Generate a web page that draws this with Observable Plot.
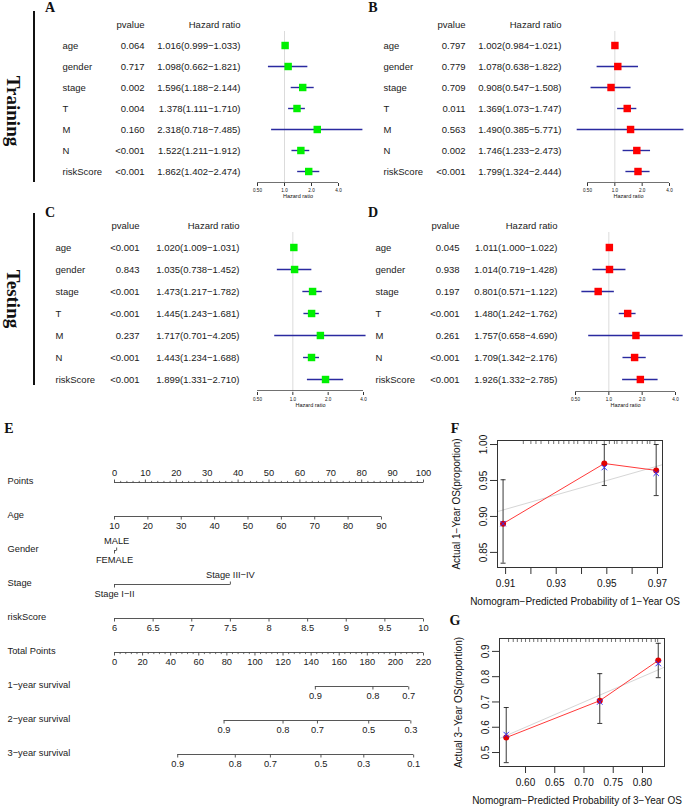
<!DOCTYPE html>
<html><head><meta charset="utf-8">
<script src="https://cdn.jsdelivr.net/npm/d3@7"></script>
<script src="https://cdn.jsdelivr.net/npm/@observablehq/plot@0.6"></script>
<style>
html,body{margin:0;padding:0;background:#fff;}
#root{position:relative;width:685px;height:809px;overflow:hidden;background:#fff;}
.pane{position:absolute;}
.pane svg{display:block;}
.lbl{position:absolute;font-family:"Liberation Serif","Times New Roman",serif;font-weight:bold;white-space:nowrap;line-height:1;color:#111;transform:translate(-50%,-50%);}
.bar{position:absolute;background:#111;width:2px;}
</style></head><body><div id="root"></div>
<script>
// ---------- DATA ----------
const variables = ["age","gender","stage","T","M","N","riskScore"];
const headerKey = "header";
const colHeaders = ["pvalue","Hazard ratio"];
const axisTitle = "Hazard ratio";
const forestTicks = [0.5, 1, 2, 4];
const forestTickLabels = ["0.50","1.0","2.0","4.0"];

// A: training, univariate
const trainUniP  = ["0.064","0.717","0.002","0.004","0.160","<0.001","<0.001"];
const trainUniHR = [1.016,1.098,1.596,1.378,2.318,1.522,1.862];
const trainUniLo = [0.999,0.662,1.188,1.111,0.718,1.211,1.402];
const trainUniHi = [1.033,1.821,2.144,1.710,7.485,1.912,2.474];
// B: training, multivariate
const trainMulP  = ["0.797","0.779","0.709","0.011","0.563","0.002","<0.001"];
const trainMulHR = [1.002,1.078,0.908,1.369,1.490,1.746,1.799];
const trainMulLo = [0.984,0.638,0.547,1.073,0.385,1.233,1.324];
const trainMulHi = [1.021,1.822,1.508,1.747,5.771,2.473,2.444];
// C: testing, univariate
const testUniP  = ["<0.001","0.843","<0.001","<0.001","0.237","<0.001","<0.001"];
const testUniHR = [1.020,1.035,1.473,1.445,1.717,1.443,1.899];
const testUniLo = [1.009,0.738,1.217,1.243,0.701,1.234,1.331];
const testUniHi = [1.031,1.452,1.782,1.681,4.205,1.688,2.710];
// D: testing, multivariate
const testMulP  = ["0.045","0.938","0.197","<0.001","0.261","<0.001","<0.001"];
const testMulHR = [1.011,1.014,0.801,1.480,1.757,1.709,1.926];
const testMulLo = [1.000,0.719,0.571,1.242,0.658,1.342,1.332];
const testMulHi = [1.022,1.428,1.122,1.762,4.690,2.176,2.785];

// E: nomogram
const nomoRows = ["Points","Age","Gender","Stage","riskScore","Total Points","1−year survival","2−year survival","3−year survival"];
const pointsTicks = [0,10,20,30,40,50,60,70,80,90,100];
const ageTicks = [10,20,30,40,50,60,70,80,90];
const ageRange = [10, 90], agePointRange = [0, 86.4];
const genderLevels = ["MALE","FEMALE"], genderPoints = [0.7, 0], genderSide = ["above","below"];
const stageLevels = ["Stage I−II","Stage III−IV"], stagePoints = [0, 37.5], stageSide = ["below","above"];
const riskTicks = [6,6.5,7,7.5,8,8.5,9,9.5,10];
const riskRange = [6, 10], riskPointRange = [0, 100];
const totalTicks = [0,20,40,60,80,100,120,140,160,180,200,220];
const totalRange = [0, 220];
const surv1 = [0.9,0.8,0.7],             surv1Total = [143,184,209.5];
const surv2 = [0.9,0.8,0.7,0.5,0.3],     surv2Total = [78,120,144.5,181,211];
const surv3 = [0.9,0.8,0.7,0.5,0.3,0.1], surv3Total = [45,86,111,147,177.5,213];

// F: 1-year calibration
const f1Pred = [0.909, 0.949, 0.9695];
const f1Obs  = [0.890, 0.9736, 0.964];
const f1Corr = [0.890, 0.968, 0.960];
const f1Lo   = [0.835, 0.943, 0.929];
const f1Hi   = [0.951, 1.000, 1.000];
const f1Rug  = [0.917,0.920,0.922,0.924,0.927,0.929,0.931,0.933,0.935,0.937,0.9385,0.941,0.943,0.944,0.946,0.949,0.951,0.953,0.954,0.956,0.958,0.960,0.962,0.964,0.966,0.967,0.969];
const f1XTicks = [0.91,0.92,0.93,0.94,0.95,0.96,0.97];
const f1XLabels = ["0.91","","0.93","","0.95","","0.97"];
const f1YTicks = [0.85,0.90,0.95,1.00];
const f1YLabels = ["0.85","0.90","0.95","1.00"];
const f1XTitle = "Nomogram−Predicted Probability of 1−Year OS";
const f1YTitle = "Actual 1−Year OS(proportion)";
// G: 3-year calibration
const g3Pred = [0.567, 0.727, 0.827];
const g3Obs  = [0.559, 0.705, 0.864];
const g3Corr = [0.571, 0.700, 0.852];
const g3Lo   = [0.460, 0.615, 0.796];
const g3Hi   = [0.678, 0.812, 0.932];
const g3Rug  = [0.571,0.579,0.586,0.593,0.600,0.607,0.614,0.621,0.627,0.636,0.643,0.650,0.658,0.665,0.672,0.679,0.687,0.694,0.703,0.709,0.716,0.725,0.732,0.740,0.747,0.754,0.762,0.771,0.778,0.785,0.793,0.800,0.807,0.815,0.822,0.826];
const g3XTicks = [0.60,0.65,0.70,0.75,0.80];
const g3XLabels = ["0.60","0.65","0.70","0.75","0.80"];
const g3YTicks = [0.5,0.6,0.7,0.8,0.9];
const g3YLabels = ["0.5","0.6","0.7","0.8","0.9"];
const g3XTitle = "Nomogram−Predicted Probability of 3−Year OS";
const g3YTitle = "Actual 3−Year OS(proportion)";

// ---------- HELPERS ----------
const SANS = '"Liberation Sans", Arial, Helvetica, sans-serif';
const root = document.getElementById("root");
const baseStyle = {fontFamily: SANS, fontSize: "9.5px", background: "none", overflow: "visible", maxWidth: "none", color: "#111"};
function place(node, left, top) {
  const d = document.createElement("div");
  d.className = "pane"; d.style.left = left + "px"; d.style.top = top + "px";
  d.appendChild(node); root.appendChild(d);
}
function label(text, cx, cy, size, rotate) {
  const d = document.createElement("div");
  d.className = "lbl"; d.textContent = text;
  d.style.left = cx + "px"; d.style.top = cy + "px"; d.style.fontSize = size + "px";
  if (rotate) d.style.transform = `translate(-50%,-50%) rotate(${rotate}deg)`;
  root.appendChild(d);
}
function bar(left, top, h) {
  const d = document.createElement("div");
  d.className = "bar"; d.style.left = left + "px"; d.style.top = top + "px"; d.style.height = h + "px";
  root.appendChild(d);
}
const lenOf = size => Math.sqrt(size / Math.PI);
const tickDown = {draw(ctx, s) { const l = lenOf(s); ctx.moveTo(0, 0); ctx.lineTo(0, l); }};
const tickUp   = {draw(ctx, s) { const l = lenOf(s); ctx.moveTo(0, 0); ctx.lineTo(0, -l); }};
const hCap     = {draw(ctx, s) { const l = lenOf(s); ctx.moveTo(-l, 0); ctx.lineTo(l, 0); }};

// ---------- FOREST ----------
function forest(c) {
  const rows = variables.map((v, i) => ({
    v, p: c.p[i], hr: c.hr[i], lo: c.lo[i], hi: c.hi[i],
    txt: `${c.hr[i].toFixed(3)}(${c.lo[i].toFixed(3)}−${c.hi[i].toFixed(3)})`
  }));
  const last = variables[variables.length - 1];
  const axisGap = (c.height - c.marginBottom) - c.rowRange[1];
  const x0 = forestTicks[0], x1 = forestTicks[forestTicks.length - 1];
  return Plot.plot({
    width: c.width, height: c.height,
    marginLeft: c.marginLeft, marginRight: c.marginRight, marginTop: c.marginTop, marginBottom: c.marginBottom,
    style: baseStyle,
    x: {type: "log", domain: [x0, x1], axis: null},
    y: {type: "point", domain: [headerKey, ...variables], range: c.rowRange, padding: 0, axis: null},
    marks: [
      Plot.ruleX([1], {stroke: "#d2d2d2", strokeWidth: 0.8}),
      Plot.ruleY([last], {x1: x0, x2: x1, dy: axisGap, stroke: "#333", strokeWidth: 0.7}),
      Plot.axisX({ticks: forestTicks, tickFormat: d => forestTickLabels[forestTicks.indexOf(d)], tickSize: 3, tickPadding: 2.5, fontSize: 4.6, label: null, stroke: "#333"}),
      Plot.text([axisTitle], {text: d => d, frameAnchor: "bottom", dy: 14, fontSize: 5.5}),
      Plot.ruleY(rows, {y: "v", x1: "lo", x2: "hi", stroke: "#2a2aa0", strokeWidth: 1.4}),
      Plot.dot(rows, {x: "hr", y: "v", symbol: "square", fill: c.color, r: 4.2}),
      Plot.text(rows, {y: "v", text: "v", frameAnchor: "left", dx: c.dx[0], textAnchor: "start", fill: "#1a1a1a"}),
      Plot.text(rows, {y: "v", text: "p", frameAnchor: "left", dx: c.dx[1], textAnchor: "end", fill: "#1a1a1a"}),
      Plot.text(rows, {y: "v", text: "txt", frameAnchor: "left", dx: c.dx[2], textAnchor: "end", fill: "#1a1a1a"}),
      Plot.text([colHeaders[0]], {y: () => headerKey, text: d => d, frameAnchor: "left", dx: c.dx[1], textAnchor: "end", fill: "#1a1a1a"}),
      Plot.text([colHeaders[1]], {y: () => headerKey, text: d => d, frameAnchor: "left", dx: c.dx[2], textAnchor: "end", fill: "#1a1a1a"})
    ]
  });
}
const GREEN = "#00f000", RED = "#ff0000";
place(forest({p: trainUniP, hr: trainUniHR, lo: trainUniLo, hi: trainUniHi, color: GREEN,
  width: 370, height: 205, marginLeft: 257, marginRight: 32, marginTop: 31, marginBottom: 22, rowRange: [22, 172], dx: [-195, -113, -17]}), 0, 0);
place(forest({p: trainMulP, hr: trainMulHR, lo: trainMulLo, hi: trainMulHi, color: RED,
  width: 340, height: 205, marginLeft: 242, marginRight: 16, marginTop: 31, marginBottom: 22, rowRange: [22, 172], dx: [-204, -122, -26]}), 345, 0);
place(forest({p: testUniP, hr: testUniHR, lo: testUniLo, hi: testUniHi, color: GREEN,
  width: 370, height: 215, marginLeft: 257, marginRight: 7, marginTop: 32, marginBottom: 23, rowRange: [23, 181], dx: [-202, -118, -18]}), 0, 200);
place(forest({p: testMulP, hr: testMulHR, lo: testMulLo, hi: testMulHi, color: RED,
  width: 340, height: 215, marginLeft: 230, marginRight: 10, marginTop: 32, marginBottom: 23, rowRange: [23, 180], dx: [-200, -116, -18]}), 345, 200);

// ---------- NOMOGRAM ----------
function nomogram() {
  const R = nomoRows;
  const ageS = d3.scaleLinear(ageRange, agePointRange);
  const riskS = d3.scaleLinear(riskRange, riskPointRange);
  const totS = d3.scaleLinear(totalRange, [0, 100]);
  const pointsMinor = d3.range(0, 101, 2).filter(t => t % 10);
  const totalMinor = d3.range(0, 221, 4).filter(t => t % 20);
  const lines = [], down = [], up = [], minDown = [], minUp = [], below = [], above = [];
  const ext = arr => ({a: d3.min(arr), b: d3.max(arr)});
  lines.push({row: R[0], ...ext(pointsTicks)});
  pointsTicks.forEach(t => { up.push({row: R[0], x: t}); above.push({row: R[0], x: t, label: String(t)}); });
  pointsMinor.forEach(t => minUp.push({row: R[0], x: t}));
  const ageP = ageTicks.map(ageS);
  lines.push({row: R[1], ...ext(ageP)});
  ageTicks.forEach((t, i) => { down.push({row: R[1], x: ageP[i]}); below.push({row: R[1], x: ageP[i], label: String(t)}); });
  lines.push({row: R[2], ...ext(genderPoints)});
  genderLevels.forEach((g, i) => {
    const o = {row: R[2], x: genderPoints[i], label: g};
    if (genderSide[i] === "above") { up.push(o); above.push(o); } else { down.push(o); below.push(o); }
  });
  lines.push({row: R[3], ...ext(stagePoints)});
  stageLevels.forEach((g, i) => {
    const o = {row: R[3], x: stagePoints[i], label: g};
    if (stageSide[i] === "above") { up.push(o); above.push(o); } else { down.push(o); below.push(o); }
  });
  const riskP = riskTicks.map(riskS);
  lines.push({row: R[4], ...ext(riskP)});
  riskTicks.forEach((t, i) => { down.push({row: R[4], x: riskP[i]}); below.push({row: R[4], x: riskP[i], label: String(t)}); });
  const totP = totalTicks.map(totS);
  lines.push({row: R[5], ...ext(totP)});
  totalTicks.forEach((t, i) => { down.push({row: R[5], x: totP[i]}); below.push({row: R[5], x: totP[i], label: String(t)}); });
  totalMinor.forEach(t => minDown.push({row: R[5], x: totS(t)}));
  [[surv1, surv1Total], [surv2, surv2Total], [surv3, surv3Total]].forEach(([s, tp], k) => {
    const xs = tp.map(totS);
    lines.push({row: R[6 + k], ...ext(xs)});
    s.forEach((v, i) => { down.push({row: R[6 + k], x: xs[i]}); below.push({row: R[6 + k], x: xs[i], label: String(v)}); });
  });
  const ink = "#444";
  return Plot.plot({
    width: 440, height: 389, marginLeft: 114, marginRight: 17, marginTop: 0, marginBottom: 0,
    style: {...baseStyle, fontSize: "9.3px"},
    x: {domain: [0, 100], axis: null},
    y: {type: "point", domain: R, range: [61, 335], padding: 0, axis: null},
    marks: [
      Plot.text(R, {y: d => d, text: d => d, frameAnchor: "left", dx: -107, dy: -1, textAnchor: "start", fill: "#1a1a1a"}),
      Plot.ruleY(lines, {y: "row", x1: "a", x2: "b", stroke: ink, strokeWidth: 0.9}),
      Plot.dot(down, {x: "x", y: "row", symbol: tickDown, r: 3, stroke: ink, fill: "none", strokeWidth: 0.9}),
      Plot.dot(up, {x: "x", y: "row", symbol: tickUp, r: 3, stroke: ink, fill: "none", strokeWidth: 0.9}),
      Plot.dot(minDown, {x: "x", y: "row", symbol: tickDown, r: 1.6, stroke: ink, fill: "none", strokeWidth: 0.8}),
      Plot.dot(minUp, {x: "x", y: "row", symbol: tickUp, r: 1.6, stroke: ink, fill: "none", strokeWidth: 0.8}),
      Plot.text(below, {x: "x", y: "row", text: "label", dy: 10, fill: "#1a1a1a"}),
      Plot.text(above, {x: "x", y: "row", text: "label", dy: -9, fill: "#1a1a1a"})
    ]
  });
}
place(nomogram(), 0, 420);

// ---------- CALIBRATION ----------
function calib(c) {
  const pts = c.pred.map((x, i) => ({x, obs: c.obs[i], corr: c.corr[i], lo: c.lo[i], hi: c.hi[i]}));
  const ideal = c.xDomain.map(v => ({v}));
  const frameH = c.height - c.marginTop - c.marginBottom;
  return Plot.plot({
    width: c.width, height: c.height,
    marginLeft: c.marginLeft, marginRight: c.marginRight, marginTop: c.marginTop, marginBottom: c.marginBottom,
    style: {...baseStyle, fontSize: "10px"},
    x: {domain: c.xDomain, axis: null},
    y: {domain: c.yDomain, axis: null},
    marks: [
      Plot.line(ideal, {x: "v", y: "v", stroke: "#d6d6d6", strokeWidth: 1}),
      Plot.ruleX(c.rug, {x: d => d, insetBottom: frameH - 4, stroke: "#333", strokeWidth: 0.7}),
      Plot.ruleX(pts, {x: "x", y1: "lo", y2: "hi", stroke: "#222", strokeWidth: 0.9}),
      Plot.dot(pts, {x: "x", y: "lo", symbol: hCap, r: 2.5, stroke: "#222", fill: "none", strokeWidth: 0.9}),
      Plot.dot(pts, {x: "x", y: "hi", symbol: hCap, r: 2.5, stroke: "#222", fill: "none", strokeWidth: 0.9}),
      Plot.line(pts, {x: "x", y: "obs", stroke: "#ff3a3a", strokeWidth: 1}),
      Plot.dot(pts, {x: "x", y: "obs", r: 3, fill: "#e00000"}),
      Plot.dot(pts, {x: "x", y: "corr", symbol: "times", r: 2.6, stroke: "#3030ff", strokeWidth: 1}),
      Plot.frame({stroke: "#333"}),
      Plot.axisX({ticks: c.xTicks, tickFormat: d => c.xLabels[c.xTicks.indexOf(d)], tickSize: 7, tickPadding: 5, fontSize: 10, label: null, stroke: "#333"}),
      Plot.axisY({ticks: c.yTicks, tickFormat: d => c.yLabels[c.yTicks.indexOf(d)], tickSize: 7, tickPadding: 4, tickRotate: -90, fontSize: 10, label: null, stroke: "#333"}),
      Plot.text([c.xTitle], {text: d => d, frameAnchor: "bottom", dy: 37, dx: -5, fontSize: 10, textAnchor: "middle"}),
      Plot.text([c.yTitle], {text: d => d, frameAnchor: "left", dx: -41, rotate: -90, fontSize: 10, textAnchor: "middle"})
    ]
  });
}
place(calib({pred: f1Pred, obs: f1Obs, corr: f1Corr, lo: f1Lo, hi: f1Hi, rug: f1Rug,
  xDomain: [0.9068, 0.972], yDomain: [0.829, 1.0056],
  xTicks: f1XTicks, xLabels: f1XLabels, yTicks: f1YTicks, yLabels: f1YLabels, xTitle: f1XTitle, yTitle: f1YTitle,
  width: 245, height: 200, marginLeft: 57, marginRight: 23, marginTop: 20, marginBottom: 53}), 440, 420);
place(calib({pred: g3Pred, obs: g3Obs, corr: g3Corr, lo: g3Lo, hi: g3Hi, rug: g3Rug,
  xDomain: [0.5555, 0.8377], yDomain: [0.4447, 0.951],
  xTicks: g3XTicks, xLabels: g3XLabels, yTicks: g3YTicks, yLabels: g3YLabels, xTitle: g3XTitle, yTitle: g3YTitle,
  width: 245, height: 189, marginLeft: 59, marginRight: 21, marginTop: 18, marginBottom: 43}), 440, 620);

// ---------- PANEL LABELS ----------
bar(33, 11, 171);
bar(33, 213, 172);
label("Training", 13, 111, 19, 90);
label("Testing", 13, 299, 19, 90);
label("A", 50, 8, 14);
label("B", 373, 8, 14);
label("C", 50, 213, 14);
label("D", 373, 213, 14);
label("E", 9, 429, 14);
label("F", 455, 429, 14);
label("G", 455, 621, 14);
</script></body></html>
